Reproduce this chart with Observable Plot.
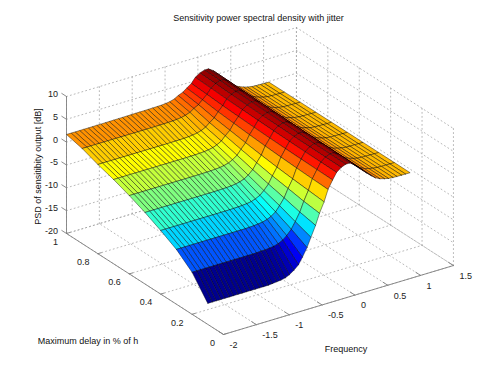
<!DOCTYPE html>
<html><head><meta charset="utf-8">
<style>html,body{margin:0;padding:0;background:#fff}svg{display:block}</style>
<script src="https://cdn.jsdelivr.net/npm/d3@7"></script>
<script src="https://cdn.jsdelivr.net/npm/@observablehq/plot@0.6"></script>
</head><body><script>
const freqTicks=[-2,-1.5,-1,-0.5,0,0.5,1,1.5];
const delayTicks=[0,0.2,0.4,0.6,0.8,1];
const psdTicks=[-20,-15,-10,-5,0,5,10];
const delays=[0.1,0.2,0.3,0.4,0.5,0.6,0.7,0.8,0.9,1];
const freqs=[-2,-1.93,-1.87,-1.8,-1.74,-1.67,-1.61,-1.54,-1.48,-1.41,-1.35,-1.28,-1.21,-1.15,-1.08,-1.02,-0.95,-0.89,-0.82,-0.76,-0.69,-0.62,-0.56,-0.49,-0.43,-0.36,-0.3,-0.23,-0.17,-0.1,-0.04,0.03,0.1,0.16,0.23,0.29,0.36,0.42,0.49,0.55,0.62,0.69,0.75,0.82,0.88,0.95,1.01,1.08];
const psd01=[-15.4,-15.4,-15.4,-15.4,-15.4,-15.4,-15.4,-15.4,-15.4,-15.4,-15.4,-15.4,-15.4,-15.4,-15.4,-15.3,-15.2,-15.1,-14.9,-14.5,-13.8,-12.9,-11.5,-9.7,-7.7,-5.4,-3,-0.8,1.66,3.43,4.82,5.62,6.01,6.01,5.42,4.61,3.61,2.7,1.8,1.1,0.6,0.3,0.1,0,-0.03,-0.05,-0.06,-0.07];
const psd02=[-10.8,-10.8,-10.8,-10.8,-10.8,-10.8,-10.8,-10.8,-10.8,-10.8,-10.8,-10.8,-10.8,-10.8,-10.8,-10.77,-10.7,-10.7,-10.6,-10.5,-10.2,-9.7,-9,-7.9,-6.5,-4.7,-2.6,-0.5,1.77,3.49,4.86,5.65,6.04,6.04,5.44,4.63,3.63,2.72,1.81,1.13,0.61,0.31,0.11,0,-0.03,-0.05,-0.06,-0.07];
const psd03=[-8,-8,-8,-8,-8,-8,-8,-8,-8,-8,-8,-8,-8,-8,-8,-8,-8,-7.96,-7.9,-7.8,-7.7,-7.4,-7,-6.3,-5.2,-3.8,-2,-0.2,1.92,3.56,4.91,5.69,6.08,6.08,5.48,4.66,3.66,2.75,1.84,1.14,0.63,0.32,0.11,0,-0.03,-0.05,-0.06,-0.07];
const psd04=[-6.07,-6.07,-6.07,-6.07,-6.07,-6.07,-6.07,-6.07,-6.07,-6.07,-6.07,-6.07,-6.07,-6.07,-6.07,-6.07,-6.06,-6.04,-6,-5.95,-5.86,-5.69,-5.39,-4.88,-4.11,-2.98,-1.46,0.15,2.09,3.64,4.97,5.74,6.13,6.13,5.53,4.7,3.69,2.78,1.86,1.16,0.64,0.33,0.12,0,-0.03,-0.05,-0.06,-0.07];
const psd05=[-4.34,-4.34,-4.34,-4.34,-4.34,-4.34,-4.34,-4.34,-4.34,-4.34,-4.34,-4.34,-4.34,-4.34,-4.34,-4.34,-4.33,-4.32,-4.29,-4.26,-4.19,-4.08,-3.87,-3.51,-2.93,-2.04,-0.78,0.58,2.31,3.75,5.06,5.81,6.2,6.2,5.58,4.76,3.74,2.82,1.89,1.19,0.67,0.35,0.13,0,-0.03,-0.05,-0.06,-0.08];
const psd06=[-2.85,-2.85,-2.85,-2.85,-2.85,-2.85,-2.85,-2.85,-2.85,-2.85,-2.85,-2.85,-2.85,-2.85,-2.85,-2.85,-2.84,-2.83,-2.82,-2.79,-2.74,-2.66,-2.51,-2.24,-1.8,-1.1,-0.06,1.07,2.57,3.89,5.16,5.9,6.27,6.27,5.66,4.82,3.79,2.87,1.94,1.23,0.7,0.37,0.14,0,-0.03,-0.05,-0.07,-0.09];
const psd07=[-1.54,-1.54,-1.54,-1.54,-1.54,-1.54,-1.54,-1.54,-1.54,-1.54,-1.54,-1.54,-1.54,-1.54,-1.54,-1.54,-1.54,-1.53,-1.52,-1.5,-1.46,-1.4,-1.29,-1.09,-0.75,-0.19,0.68,1.6,2.87,4.05,5.28,6,6.36,6.36,5.74,4.9,3.86,2.93,1.99,1.27,0.73,0.39,0.16,0,-0.04,-0.06,-0.08,-0.1];
const psd08=[-0.47,-0.47,-0.47,-0.47,-0.47,-0.47,-0.47,-0.47,-0.47,-0.47,-0.47,-0.47,-0.47,-0.47,-0.47,-0.47,-0.47,-0.46,-0.45,-0.44,-0.41,-0.36,-0.27,-0.11,0.16,0.62,1.35,2.1,3.17,4.21,5.4,6.11,6.46,6.46,5.83,4.98,3.93,3,2.04,1.31,0.77,0.41,0.17,0,-0.04,-0.07,-0.09,-0.11];
const psd09=[0.82,0.82,0.82,0.82,0.82,0.82,0.82,0.82,0.82,0.82,0.82,0.82,0.82,0.82,0.82,0.82,0.82,0.83,0.84,0.85,0.87,0.9,0.97,1.09,1.3,1.66,2.24,2.79,3.6,4.46,5.59,6.27,6.61,6.61,5.97,5.11,4.03,3.1,2.12,1.38,0.82,0.45,0.2,0,-0.05,-0.08,-0.1,-0.12];
const psd10=[1.68,1.68,1.68,1.68,1.68,1.69,1.69,1.7,1.7,1.71,1.72,1.73,1.74,1.75,1.76,1.77,1.78,1.79,1.8,1.81,1.83,1.85,1.88,1.95,2.08,2.38,2.88,3.3,3.94,4.66,5.75,6.4,6.74,6.74,6.08,5.21,4.12,3.18,2.19,1.44,0.87,0.48,0.22,0,-0.06,-0.09,-0.12,-0.14];
const psdRows=[psd01,psd02,psd03,psd04,psd05,psd06,psd07,psd08,psd09,psd10];
const jet=["#00008f","#0000ff","#0080ff","#00ffff","#80ff80","#ffff00","#ff8000","#ff0000","#800000"];

// MATLAB-style orthographic view of the axes box
const px=(f,d)=>223+(f+2)*65.7-d*157;
const py=(f,d,z)=>334-(f+2)*19.7-d*101-(z+20)*4.567;
const P=(f,d,z,id,extra={})=>({x:px(f,d),y:py(f,d,z),id,...extra});

const faces=[];
for(let i=delays.length-2;i>=0;i--)for(let j=freqs.length-2;j>=0;j--){
  const id=`${i}-${j}`,v=psdRows[i][j];
  for(const [a,b] of [[i,j],[i,j+1],[i+1,j+1],[i+1,j],[i,j]])
    faces.push(P(freqs[b],delays[a],psdRows[a][b],id,{v}));
}
const grid=[];
const seg=(id,A,B)=>{grid.push(P(...A,id),P(...B,id));};
const fmin=-2,fmax=1.5,zmin=-20,zmax=10;
for(const f of freqTicks){seg(`wf${f}`,[f,1,zmin],[f,1,zmax]);seg(`ff${f}`,[f,0,zmin],[f,1,zmin]);}
for(const d of delayTicks){seg(`wd${d}`,[fmax,d,zmin],[fmax,d,zmax]);seg(`fd${d}`,[fmin,d,zmin],[fmax,d,zmin]);}
for(const z of psdTicks){seg(`zb${z}`,[fmin,1,z],[fmax,1,z]);seg(`zs${z}`,[fmax,1,z],[fmax,0,z]);}
const axes=[];
const aseg=(id,A,B)=>{axes.push(P(...A,id),P(...B,id));};
aseg("za",[fmin,1,zmin],[fmin,1,zmax]);
aseg("da",[fmin,0,zmin],[fmin,1,zmin]);
aseg("fa",[fmin,0,zmin],[fmax,0,zmin]);
for(const f of freqTicks)aseg(`tf${f}`,[f,0,zmin],[f,0.03,zmin]);
for(const d of delayTicks)aseg(`td${d}`,[fmin,d,zmin],[fmin+0.05,d,zmin]);
for(const z of psdTicks)aseg(`tz${z}`,[fmin,1,z],[fmin,1.03,z]);

const labelF=freqTicks.map(f=>({x:px(f,0)+6,y:py(f,0,zmin)+10.5,t:String(f)}));
const labelD=delayTicks.map(d=>({x:px(fmin,d)-8.5,y:py(fmin,d,zmin)+8.5,t:String(d)}));
const labelZ=psdTicks.map(z=>({x:57.5,y:py(fmin,1,z)-2.5,t:String(z)}));
const font="Liberation Sans, Helvetica, Arial, sans-serif",fs=9;

const chart=Plot.plot({
  width:500,height:375,margin:0,
  style:{background:"#fff",fontFamily:font},
  x:{axis:null,domain:[0,500],range:[0,500]},
  y:{axis:null,domain:[0,375],range:[0,375]},
  color:{type:"linear",domain:[-15.4,6.74],interpolate:d3.piecewise(d3.interpolateRgb,jet)},
  marks:[
    Plot.line(grid,{x:"x",y:"y",z:"id",stroke:"#a6a6a6",strokeWidth:0.8,strokeDasharray:"1,3"}),
    Plot.line(axes,{x:"x",y:"y",z:"id",stroke:"#808080",strokeWidth:0.9}),
    Plot.line(faces,{x:"x",y:"y",z:"id",fill:"v",stroke:"#000",strokeWidth:0.5,strokeOpacity:0.85}),
    Plot.text(labelF,{x:"x",y:"y",text:"t",textAnchor:"start",fontSize:fs,fill:"#222"}),
    Plot.text(labelD,{x:"x",y:"y",text:"t",textAnchor:"end",fontSize:fs,fill:"#222"}),
    Plot.text(labelZ,{x:"x",y:"y",text:"t",textAnchor:"end",fontSize:fs,fill:"#222"}),
    Plot.text(["Sensitivity power spectral density with jitter"],{x:()=>258,y:()=>18,text:d=>d,fontSize:fs,fill:"#111"}),
    Plot.text(["Frequency"],{x:()=>345.5,y:()=>349,text:d=>d,fontSize:fs,fill:"#111"}),
    Plot.text(["Maximum delay in % of h"],{x:()=>87.5,y:()=>341,text:d=>d,fontSize:fs,fill:"#111"}),
    Plot.text(["PSD of sensitibity output [dB]"],{x:()=>38,y:()=>166,text:d=>d,rotate:-90,fontSize:fs,fill:"#111"})
  ]
});
document.body.appendChild(chart);
</script></body></html>
